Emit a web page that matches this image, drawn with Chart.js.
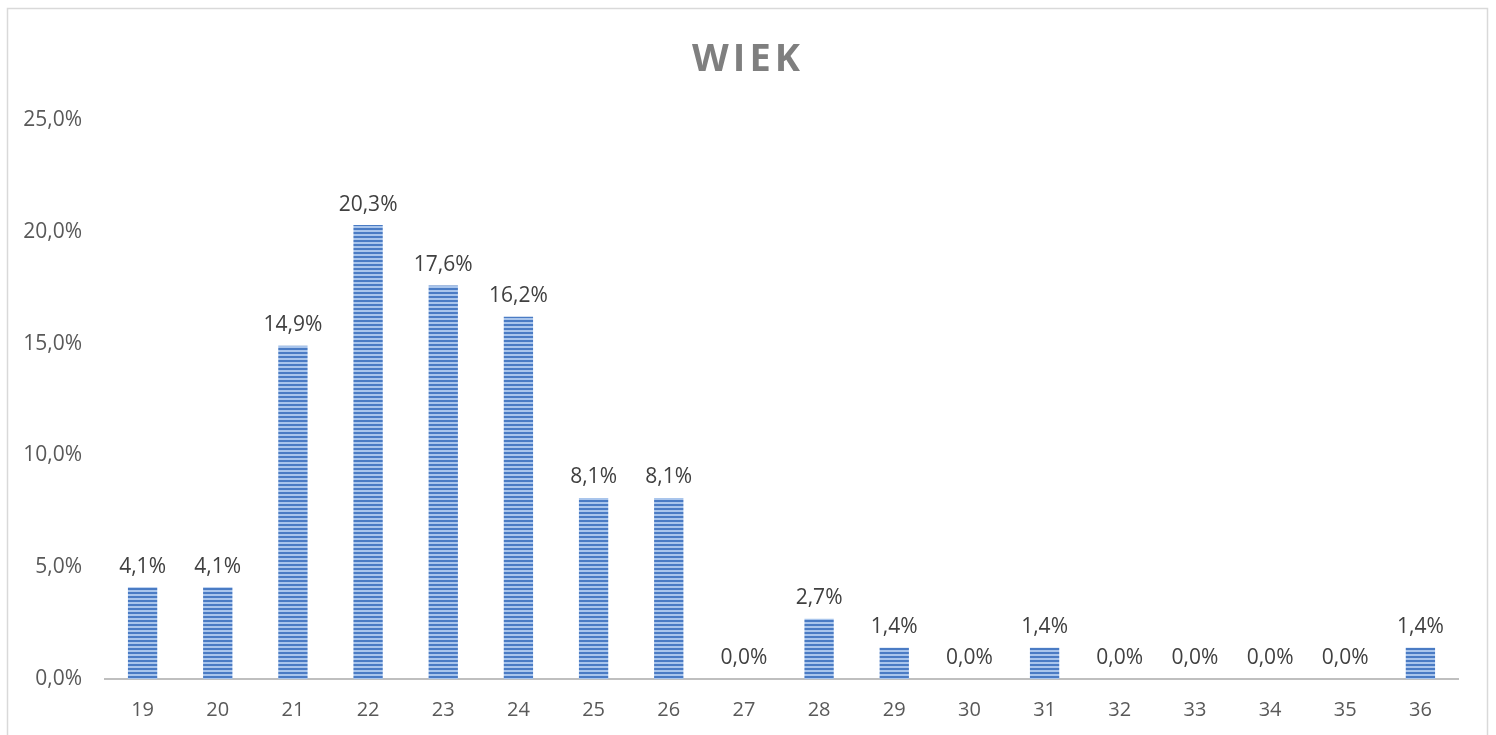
<!DOCTYPE html>
<html>
<head>
<meta charset="utf-8">
<script src="https://cdn.jsdelivr.net/npm/chart.js@4/dist/chart.umd.min.js"></script>
<style>
  html, body { margin: 0; padding: 0; background: #fff; }
  #wrap { width: 1496px; height: 735px; position: relative; }
</style>
</head>
<body>
<div id="wrap"><canvas id="wiek" width="1496" height="735"></canvas></div>
<script>
// dane
const wiek = ['19', '20', '21', '22', '23', '24', '25', '26', '27', '28', '29', '30', '31', '32', '33', '34', '35', '36'];
const procent = [4.1, 4.1, 14.9, 20.3, 17.6, 16.2, 8.1, 8.1, 0.0, 2.7, 1.4, 0.0, 1.4, 0.0, 0.0, 0.0, 0.0, 1.4];
const osY = [0, 5, 10, 15, 20, 25];

const fmt = v => v.toFixed(1).replace('.', ',') + '%';

// paski w poziome (wzór)
function wzor() {
    const c = document.createElement('canvas');
    c.width = 4; c.height = 4;
    const g = c.getContext('2d');
    g.fillStyle = '#a9c5ec';
    g.fillRect(0, 0, 4, 4);
    g.fillStyle = '#4a7bc4';
    g.fillRect(0, 0, 4, 2);
    return g.createPattern(c, 'repeat');
}

const ramka = {
    id: 'ramka',
    beforeDraw(chart) {
        const ctx = chart.ctx;
        ctx.save();
        ctx.strokeStyle = '#d9d9d9';
        ctx.lineWidth = 1.5;
        ctx.strokeRect(7.5, 8.5, 1480, 740);
        ctx.restore();
    }
};

const tytul = {
    id: 'tytul',
    afterDraw(chart) {
        const ctx = chart.ctx;
        ctx.save();
        ctx.font = 'bold 38px "Open Sans"';
        ctx.fillStyle = '#7f7f7f';
        ctx.textAlign = 'center';
        ctx.textBaseline = 'middle';
        ctx.letterSpacing = '4px';
        ctx.fillText('WIEK', 748, 60);
        ctx.restore();
    }
};

const etykiety = {
    id: 'etykiety',
    afterDatasetsDraw(chart) {
        const ctx = chart.ctx;
        const meta = chart.getDatasetMeta(0);
        ctx.save();
        ctx.font = '21px "Open Sans"';
        ctx.fillStyle = '#404040';
        ctx.textAlign = 'center';
        ctx.textBaseline = 'bottom';
        meta.data.forEach((bar, i) => {
            ctx.fillText(fmt(procent[i]), bar.x, bar.y - 10);
        });
        ctx.restore();
    }
};

new Chart(document.getElementById('wiek').getContext('2d'), {
    type: 'bar',
    data: {
        labels: wiek,
        datasets: [{
            data: procent,
            backgroundColor: wzor(),
            borderWidth: 0,
            barPercentage: 1,
            categoryPercentage: 0.39
        }]
    },
    options: {
        responsive: false,
        animation: false,
        layout: { padding: { top: 120, right: 38, left: 0, bottom: 0 } },
        plugins: {
            legend: { display: false },
            title: { display: false },
            tooltip: { enabled: false }
        },
        scales: {
            x: {
                grid: { display: false, drawTicks: false },
                border: { display: true, color: '#bfbfbf', width: 2 },
                ticks: { color: '#595959', font: { family: 'Open Sans', size: 20 }, padding: 19, maxRotation: 0 },
                afterFit(s) { s.height = 56; }
            },
            y: {
                min: 0,
                max: 25,
                grid: { display: false, drawTicks: false },
                border: { display: false },
                afterBuildTicks(s) { s.ticks = osY.map(v => ({ value: v })); },
                ticks: {
                    color: '#595959',
                    font: { family: 'Open Sans', size: 21 },
                    padding: 23,
                    callback: v => fmt(v)
                },
                afterFit(s) { s.width = 105; }
            }
        }
    },
    plugins: [ramka, tytul, etykiety]
});
</script>
</body>
</html>
